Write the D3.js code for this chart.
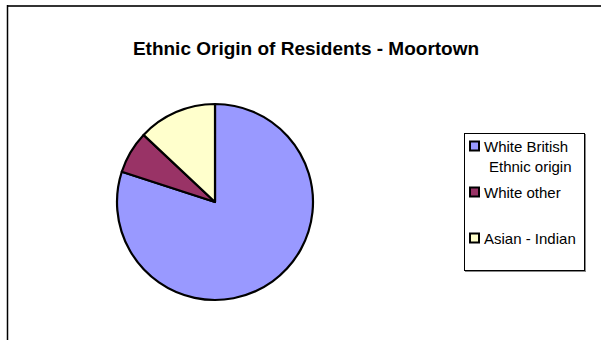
<!DOCTYPE html>
<html>
<head>
<meta charset="utf-8">
<script src="https://cdn.jsdelivr.net/npm/d3@7"></script>
<style>
  html, body { margin: 0; padding: 0; background: #fff; }
  svg { display: block; }
</style>
</head>
<body>
<svg id="chart" width="601" height="340"></svg>
<script>
const title = "Ethnic Origin of Residents - Moortown";
const categories = ["White British Ethnic origin", "White other", "Asian - Indian"];
const legendLines = [["White British", "Ethnic origin"], ["White other"], ["Asian - Indian"]];
const values = [80, 7, 13];
const colors = ["#9999FF", "#993366", "#FFFFCC"];

const svg = d3.select("#chart");

// outer frame (top and left edges visible)
svg.append("line").attr("x1", 7).attr("y1", 6).attr("x2", 601).attr("y2", 6)
  .attr("stroke", "#333").attr("stroke-width", 2);
svg.append("line").attr("x1", 7.5).attr("y1", 5).attr("x2", 7.5).attr("y2", 340)
  .attr("stroke", "#000").attr("stroke-width", 1.5);

// title
svg.append("text")
  .attr("x", 306).attr("y", 55)
  .attr("text-anchor", "middle")
  .attr("font-family", "Liberation Sans, Arial, sans-serif")
  .attr("font-weight", "bold")
  .attr("font-size", 19)
  .attr("fill", "#000")
  .text(title);

// pie
const cx = 215, cy = 202, r = 98;
const pie = d3.pie().sort(null).value(d => d).startAngle(0).endAngle(2 * Math.PI);
const arc = d3.arc().innerRadius(0).outerRadius(r);
const color = d3.scaleOrdinal().domain(categories).range(colors);

svg.append("g").attr("transform", `translate(${cx},${cy})`)
  .selectAll("path")
  .data(pie(values))
  .join("path")
  .attr("d", arc)
  .attr("fill", (d, i) => color(categories[i]))
  .attr("stroke", "#000")
  .attr("stroke-width", 2.2)
  .attr("stroke-linejoin", "round");

// legend
const lg = svg.append("g");
lg.append("rect").attr("x", 464.5).attr("y", 133.5).attr("width", 120).attr("height", 137)
  .attr("fill", "#fff").attr("stroke", "#000").attr("stroke-width", 1);
lg.append("line").attr("x1", 585.5).attr("y1", 134).attr("x2", 585.5).attr("y2", 271.5)
  .attr("stroke", "#888").attr("stroke-width", 1);
lg.append("line").attr("x1", 465).attr("y1", 271.5).attr("x2", 586).attr("y2", 271.5)
  .attr("stroke", "#888").attr("stroke-width", 1);

const itemY = [152, 198, 244];
categories.forEach((c, i) => {
  lg.append("rect")
    .attr("x", 470).attr("y", itemY[i] - 10.5).attr("width", 9).attr("height", 9)
    .attr("fill", color(c)).attr("stroke", "#000").attr("stroke-width", 2);
  legendLines[i].forEach((t, j) => {
    lg.append("text")
      .attr("x", j === 0 ? 484 : 489).attr("y", itemY[i] + j * 19.5)
      .attr("font-family", "Liberation Sans, Arial, sans-serif")
      .attr("font-size", 15)
      .attr("fill", "#000")
      .text(t);
  });
});
</script>
</body>
</html>
